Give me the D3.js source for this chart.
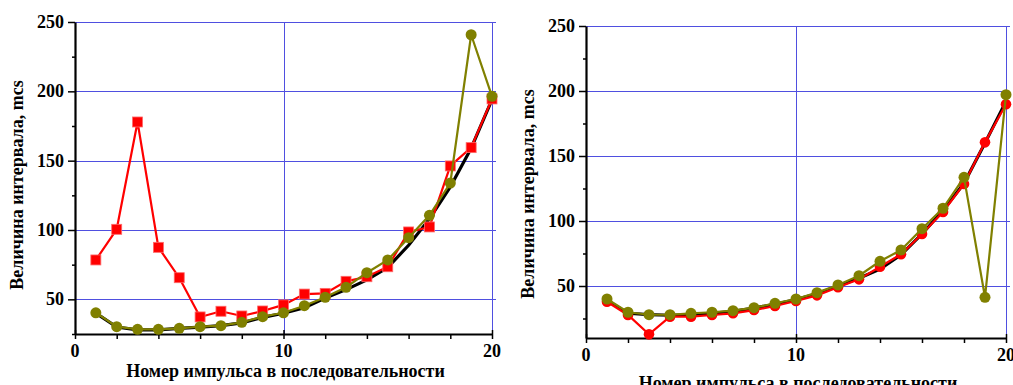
<!DOCTYPE html>
<html>
<head>
<meta charset="utf-8">
<script src="https://cdn.jsdelivr.net/npm/d3@7"></script>
<style>
  html, body { margin: 0; padding: 0; background: #fff; }
  svg { display: block; }
  text { font-family: "Liberation Serif", "Times New Roman", serif; font-weight: bold; fill: #000; }
</style>
</head>
<body>
<svg id="chart" width="1013" height="385"></svg>
<script>
// Pulse numbers in the sequence
const pulses = d3.range(1, 21);

// Left panel: interval values, mcs
const leftModel  = [40, 30, 28, 28, 29, 30, 31, 33, 37, 40, 44, 51, 57, 64, 73, 89, 108, 131, 159, 194];
const leftRed    = [78.4, 100.5, 177.9, 87.5, 65.6, 37.3, 41.4, 38, 41.6, 46, 53.8, 54.3, 63, 66.3, 73.5, 98.6, 102.2, 146.2, 159.4, 194.5];
const leftOlive  = [40.3, 30.3, 28.4, 28.4, 29.1, 30.3, 31, 33.4, 37.5, 40.3, 45.4, 51.5, 58.7, 69.2, 78.4, 94.5, 110.6, 133.9, 240.8, 196.4];

// Right panel: interval values, mcs
const rightModel = [39, 29, 28, 27.5, 28, 29, 30.5, 33, 36, 39.5, 44, 50, 56, 63, 74, 90, 108, 129, 160, 192];
const rightRed   = [37.9, 27.7, 12.8, 26.4, 26.4, 27.7, 29, 31.5, 34.6, 38.5, 42.8, 49, 55.1, 64.8, 74.4, 90, 106.9, 128.5, 160.5, 189.8];
const rightOlive = [40, 29.8, 27.9, 27.9, 29, 29.8, 31, 33.3, 36.7, 40, 44.9, 50.8, 57.9, 69, 77.7, 94.1, 109.8, 133.6, 41.3, 197.2];

// Axis tick labels
const xTickLabels = [0, 10, 20];
const yTickLabels = [50, 100, 150, 200, 250];
const xTitle = "Номер импульса в последовательности";
const yTitle = "Величина интервала, mcs";

const svg = d3.select("#chart");

function panel(cfg) {
  const x = d3.scaleLinear().domain([0, 20]).range([cfg.x0, cfg.x1]);
  const y = d3.scaleLinear().domain([cfg.yMin, 250]).range([cfg.yB, cfg.yT]);
  const g = svg.append("g");

  // grid
  g.selectAll(".hg").data(yTickLabels).join("line")
    .attr("x1", cfg.x0).attr("x2", cfg.x1 + 4)
    .attr("y1", d => Math.round(y(d)) + 0.5).attr("y2", d => Math.round(y(d)) + 0.5)
    .attr("stroke", "#4f4fe0").attr("stroke-width", 1);
  g.selectAll(".vg").data([10, 20]).join("line")
    .attr("x1", d => Math.round(x(d)) + 0.5).attr("x2", d => Math.round(x(d)) + 0.5)
    .attr("y1", cfg.yT).attr("y2", cfg.yB)
    .attr("stroke", "#4f4fe0").attr("stroke-width", 1);

  // x axis
  const xa = g.append("g").attr("transform", `translate(0,${cfg.yB})`)
    .call(d3.axisBottom(x).tickValues(d3.range(0, 21, 2)).tickSize(5).tickSizeOuter(0).tickFormat(""));
  xa.select(".domain").attr("stroke", "#000").attr("stroke-width", 2.2);
  xa.selectAll(".tick line").attr("stroke", "#000").attr("stroke-width", 1.5)
    .attr("y1", d => (d % 10 === 0 ? -4 : 0)).attr("y2", 5);
  g.selectAll(".xl").data(xTickLabels).join("text")
    .attr("x", d => x(d)).attr("y", cfg.yB + 23)
    .attr("text-anchor", "middle").attr("font-size", 18).text(d => d);

  // y axis
  const ya = g.append("g").attr("transform", `translate(${cfg.x0},0)`)
    .call(d3.axisLeft(y).tickValues(d3.range(25, 251, 25).filter(v => v >= cfg.yMin))
      .tickSize(6).tickSizeOuter(0).tickFormat(""));
  ya.select(".domain").attr("stroke", "#000").attr("stroke-width", 2.2);
  ya.selectAll(".tick line").attr("stroke", "#000").attr("stroke-width", 1.5)
    .attr("x2", d => (d % 50 === 0 ? -7 : -3));
  g.selectAll(".yl").data(yTickLabels).join("text")
    .attr("x", cfg.x0 - 11).attr("y", d => y(d) + 6)
    .attr("text-anchor", "end").attr("font-size", 18).text(d => d);

  // titles
  g.append("text").attr("x", x(10) + 2).attr("y", cfg.xTitleY)
    .attr("text-anchor", "middle").attr("font-size", 18).text(xTitle);
  g.append("text")
    .attr("transform", `translate(${cfg.yTitleX},${cfg.yTitleC}) rotate(-90)`)
    .attr("text-anchor", "middle").attr("font-size", 18).text(yTitle);

  const line = d3.line().x((d, i) => x(pulses[i])).y(d => y(d));

  // model curve
  g.append("path").datum(cfg.model).attr("d", line)
    .attr("fill", "none").attr("stroke", "#000").attr("stroke-width", 3.2);

  // red series
  g.append("path").datum(cfg.red).attr("d", line)
    .attr("fill", "none").attr("stroke", "#ff0000").attr("stroke-width", 2.2);
  if (cfg.redSquares) {
    g.selectAll(".rs").data(cfg.red).join("rect")
      .attr("x", (d, i) => x(pulses[i]) - 5).attr("y", d => y(d) - 5)
      .attr("width", 10).attr("height", 10)
      .attr("fill", "#ff0000").attr("stroke", "#ff6a6a").attr("stroke-width", 0.8);
  } else {
    g.selectAll(".rc").data(cfg.red).join("circle")
      .attr("cx", (d, i) => x(pulses[i])).attr("cy", d => y(d)).attr("r", 5.3)
      .attr("fill", "#ff0000");
  }

  // olive series
  g.append("path").datum(cfg.olive).attr("d", line)
    .attr("fill", "none").attr("stroke", "#808000").attr("stroke-width", 2.2);
  g.selectAll(".oc").data(cfg.olive).join("circle")
    .attr("cx", (d, i) => x(pulses[i])).attr("cy", d => y(d)).attr("r", 5.5)
    .attr("fill", "#808000");
}

panel({
  x0: 75, x1: 492, yT: 22, yB: 334, yMin: 25,
  model: leftModel, red: leftRed, olive: leftOlive, redSquares: true,
  xTitleY: 377, yTitleX: 23, yTitleC: 185
});
panel({
  x0: 586, x1: 1006, yT: 26, yB: 338, yMin: 10,
  model: rightModel, red: rightRed, olive: rightOlive, redSquares: false,
  xTitleY: 389, yTitleX: 534, yTitleC: 194
});
</script>
</body>
</html>
